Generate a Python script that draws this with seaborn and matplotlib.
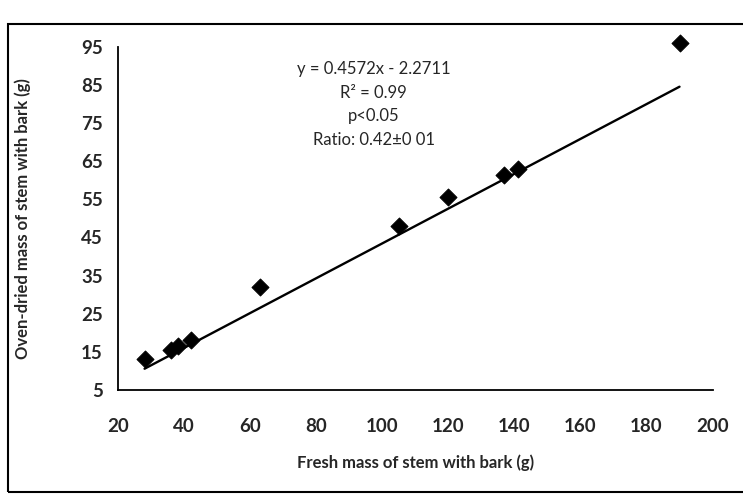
import numpy as np
import pandas as pd
import seaborn as sns
import matplotlib.pyplot as plt
from matplotlib.patches import Rectangle

# %% data
fresh_mass = [28, 36, 38, 42, 63, 105, 120, 137, 141, 190]
dry_mass = [13, 15.5, 16.5, 18, 32, 48, 55.5, 61.5, 63, 96]
slope = 0.4572
intercept = -2.2711
x_ticks = [20, 40, 60, 80, 100, 120, 140, 160, 180, 200]
y_ticks = [5, 15, 25, 35, 45, 55, 65, 75, 85, 95]
annotation = ["y = 0.4572x - 2.2711", "R² = 0.99", "p<0.05", "Ratio: 0.42±0 01"]

df = pd.DataFrame({"fresh": fresh_mass, "dry": dry_mass})
trend_x = np.array([min(fresh_mass), max(fresh_mass)])
trend = pd.DataFrame({"fresh": trend_x, "dry": slope * trend_x + intercept})

# %% plot
sns.set_style("white")
plt.rcParams["font.family"] = ["Lato", "DejaVu Sans"]

fig = plt.figure(figsize=(7.43, 5.01), dpi=100)
ax = fig.add_axes([0.159, 0.222, 0.80, 0.684])

sns.lineplot(data=trend, x="fresh", y="dry", color="black", linewidth=1.7, ax=ax)
sns.scatterplot(data=df, x="fresh", y="dry", marker="D", color="black",
                s=75, edgecolor="black", ax=ax, zorder=3, clip_on=False)

ax.set_xlim(20, 200)
ax.set_ylim(5, 95)
ax.set_xticks(x_ticks)
ax.set_yticks(y_ticks)
ax.tick_params(axis="x", length=0, pad=20, labelsize=13.5)
ax.tick_params(axis="y", length=0, pad=11, labelsize=13.5)
for lab in ax.get_xticklabels() + ax.get_yticklabels():
    lab.set_fontweight("bold")

for side in ["top", "right"]:
    ax.spines[side].set_visible(False)
for side in ["left", "bottom"]:
    ax.spines[side].set_color("black")
    ax.spines[side].set_linewidth(1.3)

ax.set_xlabel("Fresh mass of stem with bark (g)", fontsize=12,
              fontweight="bold", labelpad=14)
ax.set_ylabel("Oven-dried mass of stem with bark (g)", fontsize=12,
              fontweight="bold", labelpad=36)

ax.text(0.43, 0.96, "\n".join(annotation), transform=ax.transAxes,
        ha="center", va="top", fontsize=12, linespacing=1.6)

# outer frame of the chart area
fig.patches.append(Rectangle((0.011, 0.018), 1.2, 0.935, transform=fig.transFigure,
                             fill=False, edgecolor="black", linewidth=1.5))

plt.savefig("out.png", dpi=100)
